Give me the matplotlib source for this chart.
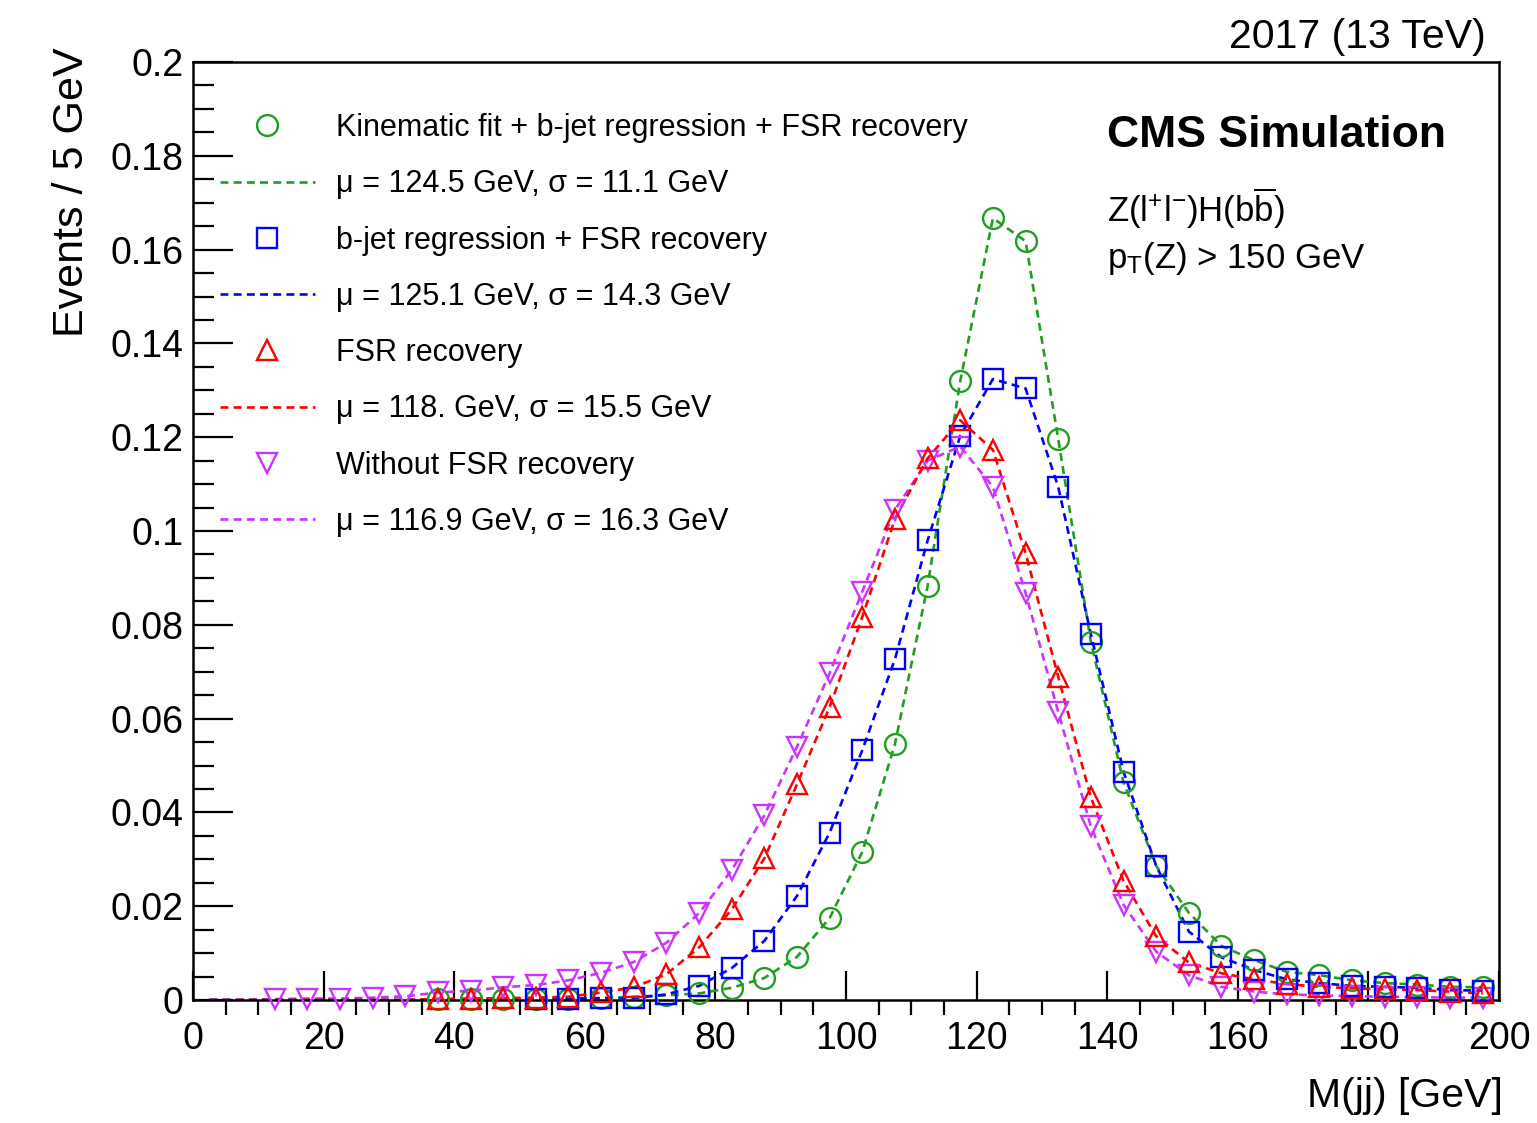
import numpy as np
import matplotlib
matplotlib.use("Agg")
import matplotlib.pyplot as plt
from matplotlib.lines import Line2D
from matplotlib.ticker import MultipleLocator

plt.rcParams['font.family'] = ['Liberation Sans', 'DejaVu Sans']
plt.rcParams['mathtext.default'] = 'regular'

# dijet mass bins, 5 GeV wide, 0-200 GeV
mjj = np.arange(2.5, 200, 5.0)

# normalised event yields per bin (0 = empty bin, no marker)
kinfit = [0, 0, 0, 0, 0, 0, 0, 0.0002, 0.0002, 0.0002,
          0.0003, 0.0003, 0.0004, 0.0007, 0.0010, 0.0014, 0.0026, 0.0047, 0.0092, 0.0175,
          0.0316, 0.0546, 0.0883, 0.1320, 0.1667, 0.1618, 0.1196, 0.0764, 0.0464, 0.0286,
          0.0186, 0.0115, 0.0085, 0.0060, 0.0053, 0.0042, 0.0036, 0.0033, 0.0028, 0.0027]
breg = [0, 0, 0, 0, 0, 0, 0, 0, 0, 0,
        0.0002, 0.0002, 0.0004, 0.0004, 0.0012, 0.0030, 0.0068, 0.0126, 0.0222, 0.0357,
        0.0533, 0.0727, 0.0980, 0.1203, 0.1324, 0.1304, 0.1094, 0.0780, 0.0487, 0.0286,
        0.0146, 0.0091, 0.0064, 0.0044, 0.0036, 0.0030, 0.0028, 0.0026, 0.0021, 0.0020]
fsr = [0, 0, 0, 0, 0, 0, 0, 0.0002, 0.0003, 0.0004,
       0.0005, 0.0007, 0.0016, 0.0027, 0.0055, 0.0112, 0.0193, 0.0302, 0.0460, 0.0625,
       0.0817, 0.1026, 0.1155, 0.1236, 0.1173, 0.0953, 0.0689, 0.0432, 0.0254, 0.0136,
       0.0080, 0.0057, 0.0044, 0.0034, 0.0028, 0.0025, 0.0023, 0.0021, 0.0018, 0.0014]
nofsr = [0, 0, 0.0002, 0.0003, 0.0003, 0.0005, 0.0008, 0.0016, 0.0020, 0.0027,
         0.0032, 0.0042, 0.0058, 0.0081, 0.0122, 0.0185, 0.0277, 0.0394, 0.0540, 0.0697,
         0.0871, 0.1045, 0.1150, 0.1180, 0.1094, 0.0868, 0.0614, 0.0370, 0.0203, 0.0103,
         0.0053, 0.0028, 0.0018, 0.0012, 0.0010, 0.0008, 0.0007, 0.0006, 0.0005, 0.0005]

labels = ["Kinematic fit + b-jet regression + FSR recovery",
          "b-jet regression + FSR recovery",
          "FSR recovery",
          "Without FSR recovery"]
fit_labels = ["\u03bc = 124.5 GeV, \u03c3 = 11.1 GeV",
              "\u03bc = 125.1 GeV, \u03c3 = 14.3 GeV",
              "\u03bc = 118. GeV, \u03c3 = 15.5 GeV",
              "\u03bc = 116.9 GeV, \u03c3 = 16.3 GeV"]

yticks = [0, 0.02, 0.04, 0.06, 0.08, 0.1, 0.12, 0.14, 0.16, 0.18, 0.2]
yticklabels = ["0", "0.02", "0.04", "0.06", "0.08", "0.1", "0.12", "0.14", "0.16", "0.18", "0.2"]
xticks = [0, 20, 40, 60, 80, 100, 120, 140, 160, 180, 200]

W, H = 1537, 1123


def px(x, y):
    return x / W, 1 - y / H


fig = plt.figure(figsize=(W / 100, H / 100), dpi=100)
ax = fig.add_axes([193 / W, 123 / H, (1499 - 193) / W, (1000 - 62) / H])

series = [
    (kinfit, '#1f9e1f', 'o'),
    (nofsr, '#cc33ff', 'v'),
    (breg, '#0000ff', 's'),
    (fsr, '#ff0000', '^'),
]
dash = (0, (3.0, 2.0))
for vals, col, mk in series:
    v = np.array(vals, dtype=float)
    ax.plot(mjj, v, color=col, lw=1.9, linestyle=dash, zorder=2)
    m = np.where(v > 0, v, np.nan)
    ax.plot(mjj, m, linestyle='none', marker=mk, ms=15, mfc='none',
            mec=col, mew=1.7, zorder=3, clip_on=False)

ax.set_xlim(0, 200)
ax.set_ylim(0, 0.2)
ax.set_xticks(xticks, labels=[str(t) for t in xticks])
ax.set_yticks(yticks, labels=yticklabels)
ax.xaxis.set_minor_locator(MultipleLocator(5))
ax.yaxis.set_minor_locator(MultipleLocator(0.005))
ax.tick_params(axis='both', direction='in', top=False, right=False, width=1.6,
               labelsize=27)
ax.tick_params(axis='x', which='major', length=21, pad=15)
ax.tick_params(axis='x', which='minor', length=11, width=1.6)
ax.tick_params(axis='y', which='major', length=29, pad=7)
ax.tick_params(axis='y', which='minor', length=15, width=1.6, direction='in',
               right=False)
for s in ax.spines.values():
    s.set_linewidth(1.8)

# legend: marker entry followed by its fit result
handles, texts = [], []
for (vals, col, mk), lab, flab in zip([series[0], series[2], series[3], series[1]],
                                      labels, fit_labels):
    handles.append(Line2D([], [], linestyle='none', marker=mk, ms=15, mfc='none',
                          mec=col, mew=1.7))
    texts.append(lab)
    handles.append(Line2D([], [], color=col, lw=1.9, linestyle=dash))
    texts.append(flab)
fig.legend(handles, texts, loc='upper left', bbox_to_anchor=px(220, 113),
           frameon=False, fontsize=22, handlelength=3.1, handletextpad=0.69,
           labelspacing=0.86, borderpad=0, borderaxespad=0)

fig.text(*px(1486, 48), "2017 (13 TeV)", fontsize=29.5, ha='right', va='baseline')
fig.text(*px(1107, 147), "CMS Simulation", fontsize=32, fontweight='bold',
         ha='left', va='baseline')
fig.text(*px(1107, 222), r"Z(l$^{+}$l$^{-}$)H(b$\overline{b}$)", fontsize=25,
         ha='left', va='baseline')
fig.text(*px(1107, 268), r"p$_{T}$(Z) > 150 GeV", fontsize=25,
         ha='left', va='baseline')

fig.text(*px(1503, 1107), "M(jj) [GeV]", fontsize=29.5, ha='right', va='baseline')
fig.text(*px(83, 47), "Events / 5 GeV", fontsize=31, rotation=90,
         rotation_mode='anchor', ha='right', va='baseline')

fig.savefig("out.png", dpi=100)
